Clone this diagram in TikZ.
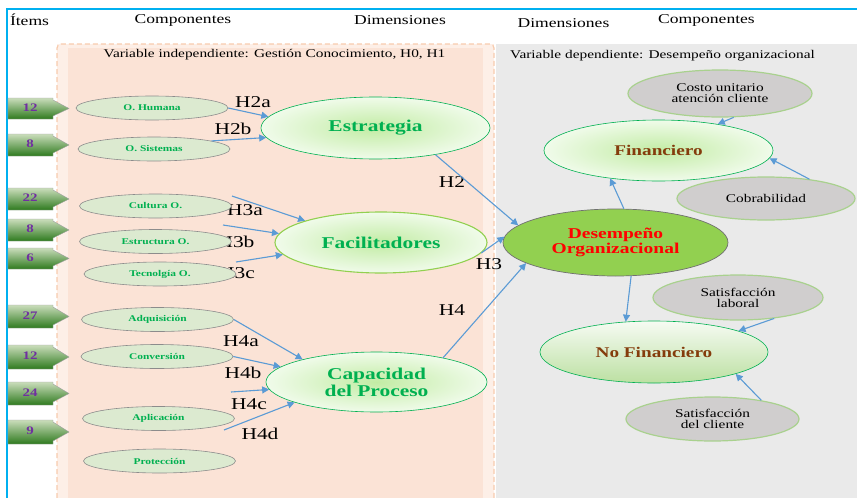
\documentclass[tikz,border=0pt]{standalone}
\usepackage{fontspec}
\setmainfont{Liberation Serif}[FakeStretch=1.3]
\usetikzlibrary{shapes.geometric,arrows.meta}

\definecolor{framecyan}{HTML}{00B0F0}
\definecolor{panelline}{HTML}{F8CBAD}
\definecolor{bandfill}{HTML}{FDEFE7}
\definecolor{innerfill}{HTML}{FBE3D6}
\definecolor{grayfill}{HTML}{EAEAEA}
\definecolor{linkblue}{HTML}{5B9BD5}
\definecolor{dimgreen}{HTML}{00B050}
\definecolor{facline}{HTML}{92D050}
\definecolor{compfill}{HTML}{DCEAD0}
\definecolor{compline}{HTML}{8C8C8C}
\definecolor{dimin}{HTML}{C2ECA4}
\definecolor{dimout}{HTML}{F0FBEA}
\definecolor{nofintop}{HTML}{F6FBF3}
\definecolor{nofinbot}{HTML}{BCE0A2}
\definecolor{desfill}{HTML}{92D050}
\definecolor{desline}{HTML}{707070}
\definecolor{finbrown}{HTML}{843C0C}
\definecolor{subfill}{HTML}{D0CECE}
\definecolor{subline}{HTML}{A9D18E}
\definecolor{tagtop}{HTML}{CADDBB}
\definecolor{tagbot}{HTML}{2E7A1E}
\definecolor{tagline}{HTML}{A0A0A0}
\definecolor{tagpurple}{HTML}{7030A0}

\tikzset{
  comp/.style={ellipse, draw=compline, fill=compfill, line width=0.6pt,
    minimum width=152pt, minimum height=24pt, inner sep=0pt, text=dimgreen,
    font=\bfseries\fontsize{8.8}{10}\selectfont},
  dim/.style={ellipse, draw=dimgreen, line width=0.6pt, inner color=dimin,
    outer color=dimout, inner sep=0pt, align=center, text=dimgreen,
    font=\bfseries\fontsize{16.5}{17}\selectfont},
  subdim/.style={ellipse, draw=subline, line width=1.2pt, fill=subfill,
    inner sep=0pt, align=center, font=\fontsize{11.8}{11}\selectfont},
  hyp/.style={inner sep=0pt, font=\fontsize{16.5}{18}\selectfont},
  head/.style={inner sep=0pt, font=\fontsize{13.5}{15}\selectfont},
  link/.style={draw=linkblue, line width=1.1pt, -{Triangle[length=7pt,width=7pt]}},
  tagnum/.style={inner sep=0pt, text=tagpurple, font=\bfseries\fontsize{11.5}{12}\selectfont},
}

\begin{document}
\begin{tikzpicture}[x=1pt,y=-1pt]
  \useasboundingbox (0,0) rectangle (857,498);

  % panels
  \fill[bandfill] (57,44) rectangle (494,498);
  \fill[innerfill] (68,48) rectangle (483,498);
  \draw[panelline, line width=1.2pt, dash pattern=on 5pt off 3pt, rounded corners=4pt]
    (57,498) -- (57,44) -- (494,44) -- (494,498);
  \fill[grayfill] (496,44) rectangle (857,498);
  \draw[framecyan, line width=2pt] (7,498) -- (7,9) -- (857,9);

  % headers
  \node[head] (hitems) at (29.5,20) {Ítems};
  \node[head] (hcompl) at (183,20) {Componentes};
  \node[head] (hdiml) at (400,20) {Dimensiones};
  \node[head] (hdimr) at (563.5,23) {Dimensiones};
  \node[head] (hcompr) at (706.5,20) {Componentes};
  \node[inner sep=0pt, font=\fontsize{11.8}{13}\selectfont] (vind) at (274.5,55)
    {Variable independiente: Gestión Conocimiento, H0, H1};
  \node[inner sep=0pt, font=\fontsize{11.8}{13}\selectfont] (vdep) at (662.5,55.5)
    {Variable dependiente: Desempeño organizacional};

  % hypothesis labels
  \node[hyp] (lh2a) at (253,102) {H2a};
  \node[hyp] (lh2b) at (233,129) {H2b};
  \node[hyp] (lh3a) at (245,210) {H3a};
  \node[hyp] (lh3b) at (236,242) {H3b};
  \node[hyp] (lh3c) at (237,273) {H3c};
  \node[hyp] (lh4a) at (241,341) {H4a};
  \node[hyp] (lh4b) at (243,373) {H4b};
  \node[hyp] (lh4c) at (249,404) {H4c};
  \node[hyp] (lh4d) at (260,434) {H4d};
  \node[hyp] (lh2) at (452,182) {H2};
  \node[hyp] (lh3) at (489,264) {H3};
  \node[hyp] (lh4) at (452,310) {H4};

  % item tags
  \foreach \t/\b/\n [count=\k] in {98/119/12, 134/156/8, 188/210/22, 219/241/8,
      248/269/6, 305/328/27, 345/369/12, 382/405/24, 420/444/9} {
    \shadedraw[top color=tagtop, bottom color=tagbot, draw=tagline, line width=0.4pt]
      (8,\t) -- (53,\t) -- (53,\t+2) -- (69,{(\t+\b)/2}) -- (53,\b-3) -- (53,\b) -- (8,\b) -- cycle;
    \node[tagnum] (item\k) at (30,{(\t+\b)/2-1}) {\n};
  }

  % components (independent)
  \node[comp] (hum) at (152,108) {O. Humana};
  \node[comp] (sis) at (154,149) {O. Sistemas};
  \node[comp] (cul) at (155.5,206) {Cultura O.};
  \node[comp] (estr) at (155.5,241.5) {Estructura O.};
  \node[comp] (tec) at (160,274) {Tecnolgía O.};
  \node[comp] (adq) at (157.5,319.5) {Adquisición};
  \node[comp] (conv) at (157,356.5) {Conversión};
  \node[comp] (apl) at (158.5,418.5) {Aplicación};
  \node[comp] (prot) at (159.5,461) {Protección};

  % dimensions
  \node[dim, minimum width=229pt, minimum height=62pt] (est) at (375.5,128) {Estrategia};
  \node[dim, draw=facline, line width=1.1pt, minimum width=212pt, minimum height=61pt]
    (fac) at (381,242.5) {Facilitadores};
  \node[dim, minimum width=221pt, minimum height=60pt] (cap) at (376.5,382)
    {Capacidad\\del Proceso};
  \node[ellipse, draw=desline, line width=0.7pt, fill=desfill, inner sep=0pt,
    minimum width=225pt, minimum height=67pt, align=center, text=red,
    font=\bfseries\fontsize{15}{15.5}\selectfont] (des) at (615.5,242.5)
    {Desempeño\\Organizacional};
  \node[dim, text=finbrown, font=\bfseries\fontsize{14.8}{16}\selectfont,
    minimum width=229pt, minimum height=61pt] (fin) at (658.5,150.5) {Financiero};
  \node[ellipse, draw=dimgreen, line width=0.6pt, top color=nofintop, bottom color=nofinbot,
    inner sep=0pt, minimum width=228pt, minimum height=62pt, text=finbrown,
    font=\bfseries\fontsize{14.8}{16}\selectfont] (nofin) at (654,352) {No Financiero};

  % components (dependent)
  \node[subdim, minimum width=184pt, minimum height=47pt] (costo) at (720,93.5)
    {Costo unitario\\atención cliente};
  \node[subdim, minimum width=178pt, minimum height=43pt] (cob) at (766,198.5) {Cobrabilidad};
  \node[subdim, minimum width=170pt, minimum height=45pt] (satlab) at (738,297.5)
    {Satisfacción\\laboral};
  \node[subdim, minimum width=173pt, minimum height=44pt] (satcli) at (712.5,419)
    {Satisfacción\\del cliente};

  % free starts
  \coordinate (h3a) at (232,196);
  \coordinate (h3b) at (223,225);
  \coordinate (h3c) at (236,262);
  \coordinate (h4c) at (231,392);
  \coordinate (h4d) at (224,430);

  % links
  \draw[link] (hum.east) -- (est.174);
  \draw[link] (sis.8) -- (est.185);
  \draw[link] (h3a) -- (fac.164);
  \draw[link] (h3b) -- (fac.175);
  \draw[link] (h3c) -- (fac.187);
  \draw[link] (adq.east) -- (cap.163);
  \draw[link] (conv.east) -- (cap.171);
  \draw[link] (h4c) -- (cap.184);
  \draw[link] (h4d) -- (cap.194);
  \draw[link] (est.-24) -- (des.170);
  \draw[link] (fac.-6) -- (des.177);
  \draw[link] (cap.20) -- (des.193);
  \draw[link] (des.76) -- (fin.210);
  \draw[link] (costo.-60) -- (fin.24);
  \draw[link] (cob.24) -- (fin.-4);
  \draw[link] (des.-65) -- (nofin.133);
  \draw[link] (satlab.-30) -- (nofin.14);
  \draw[link] (satcli.21) -- (nofin.-15);
\end{tikzpicture}
\end{document}
